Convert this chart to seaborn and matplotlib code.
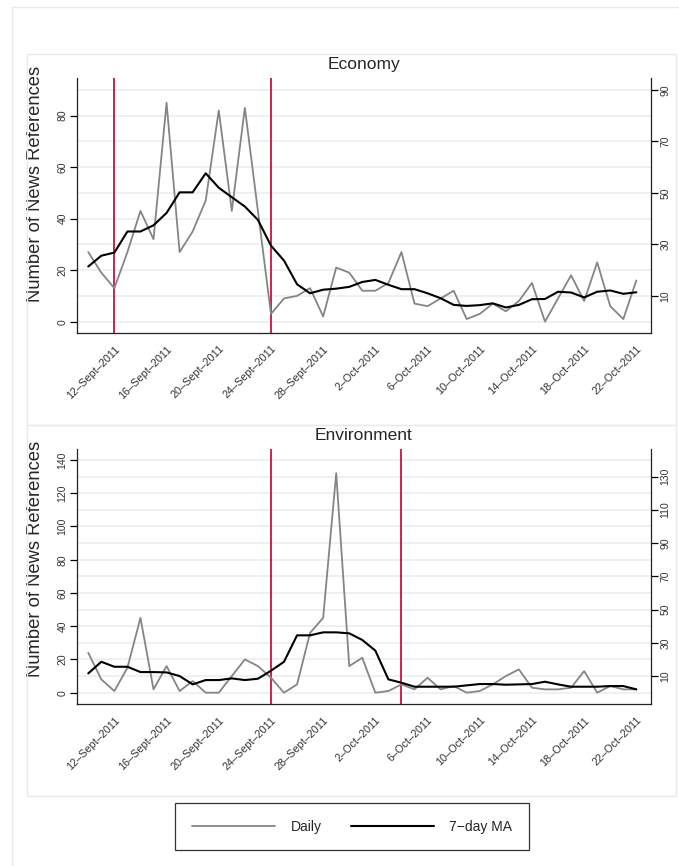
import numpy as np
import pandas as pd
import matplotlib
matplotlib.use("Agg")
import matplotlib.pyplot as plt
import matplotlib.patches as mpatches
from matplotlib.lines import Line2D
import seaborn as sns

# ---- data -------------------------------------------------------------
dates = pd.date_range("2011-09-10", "2011-10-22", freq="D")

econ_daily = [27, 19, 13, 27, 43, 32, 85, 27, 35, 47, 82, 43, 83, 43, 3,
              9, 10, 13, 2, 21, 19, 12, 12, 15, 27, 7, 6, 9, 12, 1,
              3, 7, 4, 8, 15, 0, 9, 18, 8, 23, 6, 1, 16]
econ_ma = [21.4, 25.6, 26.8, 35.0, 35.0, 37.4, 42.2, 50.2, 50.2, 57.6, 52.0,
           48.3, 44.7, 39.5, 29.5, 23.7, 14.5, 11.0, 12.4, 12.8, 13.5, 15.4,
           16.2, 14.3, 12.6, 12.6, 11.0, 9.1, 6.5, 6.1, 6.4, 7.1, 5.5, 6.5,
           8.7, 8.8, 11.6, 11.3, 9.4, 11.6, 12.1, 10.8, 11.4]

env_daily = [24, 8, 1, 15, 45, 2, 16, 1, 7, 0, 0, 10, 20, 16, 9,
             0, 5, 36, 45, 132, 16, 21, 0, 1, 5, 2, 9, 2, 4, 0,
             1, 5, 10, 14, 3, 2, 2, 3, 13, 0, 4, 2, 2]
env_ma = [11.6, 18.6, 15.6, 15.6, 12.4, 12.4, 12.2, 10.0, 5.0, 7.6, 7.6,
          8.6, 7.6, 8.4, 13.2, 18.6, 34.5, 34.5, 36.3, 36.3, 35.7, 31.7,
          25.3, 8.0, 6.0, 3.6, 3.6, 3.6, 3.6, 4.4, 5.2, 5.2, 4.8, 5.0,
          5.2, 6.6, 5.0, 3.6, 3.6, 3.6, 4.0, 4.0, 2.0]

econ_events = ["2011-09-12", "2011-09-24"]
env_events = ["2011-09-24", "2011-10-04"]

tick_dates = pd.date_range("2011-09-12", "2011-10-22", freq="4D")
tick_labels = ["12\u2013Sept\u20132011", "16\u2013Sept\u20132011",
               "20\u2013Sept\u20132011", "24\u2013Sept\u20132011",
               "28\u2013Sept\u20132011", "2\u2013Oct\u20132011",
               "6\u2013Oct\u20132011", "10\u2013Oct\u20132011",
               "14\u2013Oct\u20132011", "18\u2013Oct\u20132011",
               "22\u2013Oct\u20132011"]

econ_left_ticks = [0, 20, 40, 60, 80]
econ_right_ticks = [10, 30, 50, 70, 90]
env_left_ticks = [0, 20, 40, 60, 80, 100, 120, 140]
env_right_ticks = [10, 30, 50, 70, 90, 110, 130]

# ---- style ------------------------------------------------------------
sns.set_style("white")
plt.rcParams["font.family"] = ["Liberation Sans", "DejaVu Sans"]

W, H = 679, 866
fig = plt.figure(figsize=(W / 100, H / 100), dpi=100)

FRAME = "#e4ecee"
GRID = "#e8f0f2"
DAILY_C = "#858585"
MA_C = "#000000"
EVENT_C = "#cc1042"


def fx(px):
    return px / W


def fy(py):
    return 1 - py / H


# outer and panel frames
def frame(x0, y0, x1, y1):
    fig.patches.append(mpatches.Rectangle(
        (fx(x0), fy(y1)), fx(x1) - fx(x0), fy(y0) - fy(y1),
        transform=fig.transFigure, fill=False, edgecolor=FRAME, lw=1.0))


frame(12.3, 7, 690, 880)
frame(27.3, 54, 676, 425)
frame(27.3, 425, 676, 796)

x0 = dates[0] - pd.Timedelta(days=0.84)
x1 = dates[-1] + pd.Timedelta(days=1.1)


def panel(top_px, bot_px, title, daily, ma, events, ylim, lt, rt, title_y,
          label_y):
    ax = fig.add_axes([fx(77.3), fy(bot_px), fx(650.7) - fx(77.3),
                       fy(top_px) - fy(bot_px)])
    df = pd.DataFrame({"date": dates, "Daily": daily, "MA": ma})

    for g in np.arange(0, ylim[1], 10):
        ax.axhline(g, color=GRID, lw=1.2, zorder=0)
    for e in events:
        ax.axvline(pd.Timestamp(e), color=EVENT_C, lw=1.3, zorder=1)

    sns.lineplot(data=df, x="date", y="Daily", ax=ax, color=DAILY_C,
                 lw=1.3, zorder=2)
    sns.lineplot(data=df, x="date", y="MA", ax=ax, color=MA_C,
                 lw=1.5, zorder=3)

    ax.set_xlim(x0, x1)
    ax.set_ylim(*ylim)
    ax.set_xlabel("")
    ax.set_ylabel("Number of News References", fontsize=13.2)
    ax.yaxis.set_label_coords(-0.058, label_y)
    ax.set_yticks(lt)
    ax.set_yticklabels([str(v) for v in lt], rotation=90, va="center",
                       fontsize=7.5, color="#333333")
    ax.set_xticks(tick_dates)
    ax.set_xticklabels(tick_labels, rotation=45, ha="right",
                       rotation_mode="anchor", fontsize=7.8, color="#333333")
    ax.tick_params(axis="both", direction="out", length=5, width=0.9,
                   color="black", pad=2)
    ax.tick_params(axis="x", pad=3)
    for s in ["left", "bottom"]:
        ax.spines[s].set_color("#222222")
        ax.spines[s].set_linewidth(0.9)
    ax.spines["top"].set_visible(False)
    ax.spines["right"].set_visible(False)

    ax2 = ax.twinx()
    ax2.set_ylim(*ylim)
    ax2.set_yticks(rt)
    ax2.set_yticklabels([str(v) for v in rt], rotation=90, va="center",
                        fontsize=7.5, color="#333333")
    ax2.tick_params(axis="y", direction="out", length=5, width=0.9,
                    color="black", pad=2)
    for s in ["left", "bottom", "top"]:
        ax2.spines[s].set_visible(False)
    ax2.spines["right"].set_color("#222222")
    ax2.spines["right"].set_linewidth(0.9)

    fig.text(fx(364), fy(title_y), title, ha="center", va="center",
             fontsize=12.5)
    return ax


panel(78, 332.7, "Economy", econ_daily, econ_ma, econ_events,
      (-4.3, 94.6), econ_left_ticks, econ_right_ticks, 64, 0.585)
panel(449.3, 704, "Environment", env_daily, env_ma, env_events,
      (-6.8, 146.4), env_left_ticks, env_right_ticks, 435, 0.57)

# shared legend
handles = [Line2D([], [], color=DAILY_C, lw=1.3),
           Line2D([], [], color=MA_C, lw=1.5)]
leg = fig.legend(handles, ["Daily", "7\u2212day MA"], ncol=2,
                 loc="center", bbox_to_anchor=(fx(352), fy(826.5)),
                 frameon=True, fancybox=False, edgecolor="black",
                 fontsize=10, handlelength=6.0, handletextpad=1.1,
                 columnspacing=2.1, borderpad=1.2)
leg.get_frame().set_linewidth(0.9)

fig.savefig("out.png", dpi=100, facecolor="white")
